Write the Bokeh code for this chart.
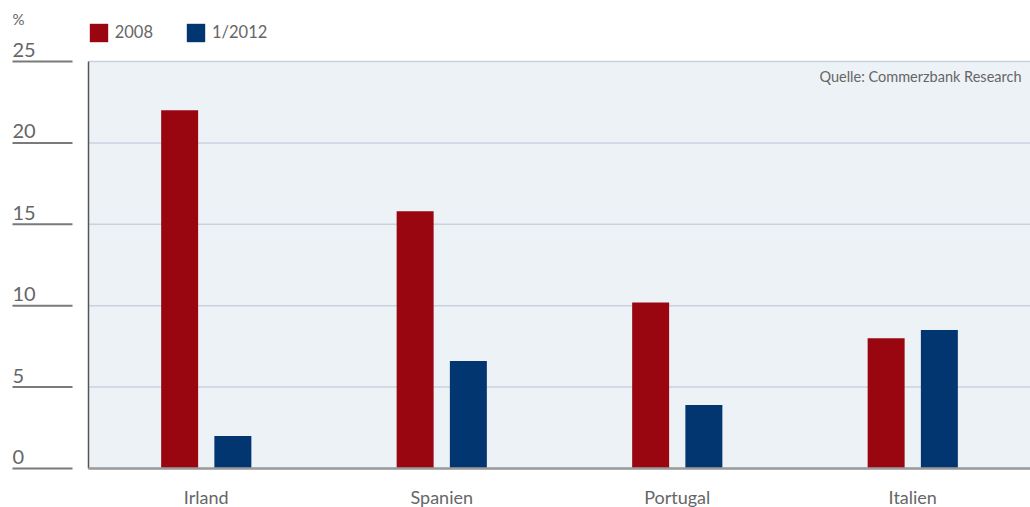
from bokeh.plotting import figure
from bokeh.models import (ColumnDataSource, Range1d, Legend, LegendItem, Label,
                          BoxAnnotation)
from bokeh.transform import dodge
from bokeh.embed import file_html
from bokeh.resources import INLINE

# Werte in Prozent
countries = ["Irland", "Spanien", "Portugal", "Italien"]
values_2008 = [22.0, 15.8, 10.2, 8.0]
values_2012 = [2.0, 6.6, 3.9, 8.5]
y_ticks = [0, 5, 10, 15, 20, 25]
series_labels = ["2008", "1/2012"]
y_unit = "%"
source_note = "Quelle: Commerzbank Research"

RED = "#9a0610"
BLUE = "#023671"
TEXT = "#666666"
GRID = "#c8d2df"
AREA = "#edf2f6"
FONT = "Lato"

# page geometry (pixels)
WIDTH, HEIGHT = 1030, 507
AREA_LEFT, AREA_TOP, AREA_BOTTOM = 88, 61, 468

n = len(countries)
y_top = y_ticks[-1]
px_per_unit = (WIDTH - AREA_LEFT) / n
px_per_y = (AREA_BOTTOM - AREA_TOP) / y_top


def px_to_x(px):
    """Horizontal pixel position -> x data coordinate."""
    return -0.5 + (px - AREA_LEFT) / px_per_unit


def dy(px):
    """Vertical pixel distance -> y data distance."""
    return px / px_per_y


x_start, x_end = px_to_x(0), n - 0.5
y_start = -dy(HEIGHT - AREA_BOTTOM)
y_end = y_top + dy(AREA_TOP)

source = ColumnDataSource(dict(x=list(range(n)), country=countries,
                               v2008=values_2008, v2012=values_2012))
tick_source = ColumnDataSource(dict(y=y_ticks, label=[str(t) for t in y_ticks]))

p = figure(width=WIDTH, height=HEIGHT, x_range=Range1d(x_start, x_end),
           y_range=Range1d(y_start, y_end), output_backend="svg", toolbar_location=None,
           min_border=0)
p.background_fill_color = "white"
p.border_fill_color = "white"
p.outline_line_color = None
p.xgrid.visible = False
p.ygrid.visible = False
p.xaxis.visible = False
p.yaxis.visible = False

# plot area background
p.add_layout(BoxAnnotation(left=-0.5, right=n - 0.5, bottom=0, top=y_top,
                           fill_color=AREA, fill_alpha=1, line_color=None, level="underlay"))

# horizontal grid lines across the plot area
p.segment(x0=-0.5, x1=n - 0.5, y0="y", y1="y", source=tick_source,
          line_color=GRID, line_width=1.5)

# tick marks and labels in the left margin
p.segment(x0=px_to_x(12), x1=px_to_x(72), y0="y", y1="y", source=tick_source,
          line_color="#7a7a7a", line_width=2)
p.text(x=px_to_x(12), y=dodge("y", dy(11.5)), text="label", source=tick_source,
       text_align="left", text_baseline="middle", text_font={"value": FONT},
       text_font_size="20px", text_color=TEXT)
p.add_layout(Label(x=px_to_x(12), y=y_top + dy(42.5), text=y_unit,
                   text_align="left", text_baseline="middle",
                   text_font=FONT, text_font_size="15px", text_color=TEXT))

# left edge of the plot area
p.segment(x0=-0.5, x1=-0.5, y0=0, y1=y_top, line_color="#555555", line_width=1.5)

# bars
r1 = p.vbar(x=dodge("x", -0.113), top="v2008", width=0.157,
            source=source, fill_color=RED, line_color=None)
r2 = p.vbar(x=dodge("x", 0.113), top="v2012", width=0.157,
            source=source, fill_color=BLUE, line_color=None)

# baseline and category labels
p.segment(x0=-0.5, x1=n - 0.5, y0=0, y1=0, line_color="#9a9a9a", line_width=2.5)
p.text(x="x", y=-dy(28), text="country", source=source,
       text_align="center", text_baseline="middle", text_font={"value": FONT},
       text_font_size="18px", text_color=TEXT)

# source note
p.add_layout(Label(x=n - 0.5, y=y_top - dy(14.5), x_offset=-9,
                   text=source_note, text_align="right", text_baseline="middle",
                   text_font=FONT, text_font_size="14.5px", text_color=TEXT))

legend = Legend(items=[LegendItem(label=series_labels[0], renderers=[r1]),
                       LegendItem(label=series_labels[1], renderers=[r2])],
                orientation="horizontal", location=(AREA_LEFT - 1.3, HEIGHT - 20.7 - 23),
                glyph_width=23, glyph_height=23, label_standoff=5, spacing=31,
                padding=0, margin=0, border_line_color=None, background_fill_alpha=0,
                label_text_font=FONT, label_text_font_size="16.5px", label_text_color=TEXT)
p.add_layout(legend)

open("out.html", "w").write(file_html(p, INLINE))
